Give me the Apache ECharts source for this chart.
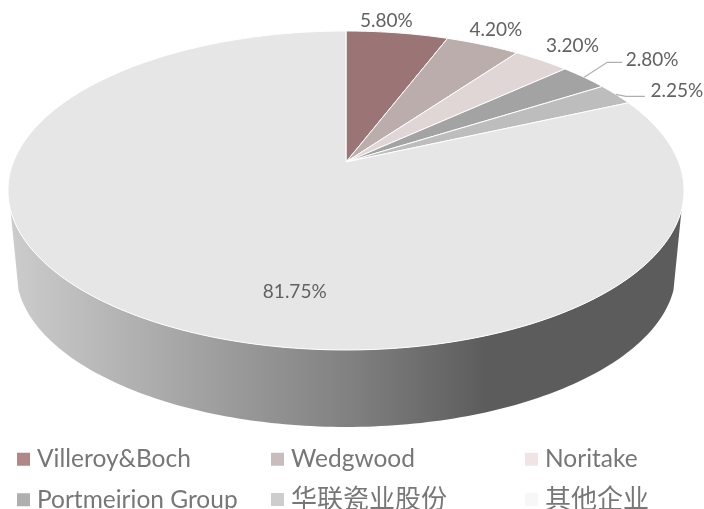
<!DOCTYPE html>
<html>
<head>
<meta charset="utf-8">
<style>html,body{margin:0;padding:0;background:#fff}#chart{width:704px;height:509px}</style>
<script src="https://cdn.jsdelivr.net/npm/echarts@6/dist/echarts.min.js"></script>
</head>
<body>
<div id="chart"></div>
<script>
// Ceramics market share
const companies = ['Villeroy&Boch', 'Wedgwood', 'Noritake', 'Portmeirion Group', '华联瓷业股份', '其他企业'];
const shares = [5.80, 4.20, 3.20, 2.80, 2.25, 81.75];
const sliceColors = ['#9b7575', '#bcadad', '#e0d6d6', '#a3a3a3', '#bdbdbd', '#e6e6e6'];
const swatchColors = ['#b08686', '#c9bcbc', '#f0e4e4', '#afafaf', '#cdcdcd', '#f7f7f7'];

// Tilted-disc projection: the apex sits above the rim's centre because of perspective
const disc = { apexX: 346, apexY: 162, scaleX: 332.6, scaleY: 154.4, tilt: 0.1786 };
// The lower rim shrinks slightly towards a far vanishing point
const base = { shrink: 0.976, vanishY: 3558 };
// Where the side wall leaves the upper rim, in degrees clockwise from twelve o'clock
const wallFrom = 107.1, wallTo = 252.9;
// Label centre relative to the rim point at each slice's mid angle
const labelOffsets = [[-11, -12], [13, -15], [31, -14], [68, -17.5], [61, -4], [161, -23]];
// Leader line bends, relative to the same rim point
const leaders = [null, null, null, [[23, -15], [38, -15]], [[10, 2], [29, 2]], null];
// Legend placement and type size, Latin and CJK names differ slightly
const legendCells = [[17, 447], [271, 447], [525, 447], [17, 487.5], [271, 486.5], [525, 486.5]];
const legendFontSizes = [24.5, 24.5, 24.5, 24.5, 26, 26];

function rim(deg) {
  const t = deg * Math.PI / 180, X = Math.sin(t), Y = Math.cos(t), d = 1 + disc.tilt * Y;
  return [disc.apexX + disc.scaleX * X / d, disc.apexY - disc.scaleY * Y / d];
}
function lowerRim(deg) {
  const p = rim(deg);
  return [disc.apexX + (p[0] - disc.apexX) * base.shrink, base.vanishY + (p[1] - base.vanishY) * base.shrink];
}
function sweep(fn, a, b) {
  const pts = [], n = Math.max(2, Math.ceil(Math.abs(b - a)));
  for (let i = 0; i <= n; i++) pts.push(fn(a + (b - a) * i / n));
  return pts;
}

const total = shares.reduce((s, v) => s + v, 0);
let running = 0;
const spans = shares.map(v => { const a = running / total * 360; running += v; return [a, running / total * 360]; });

const wallSeries = {
  type: 'custom', name: 'wall', coordinateSystem: 'none', silent: true, data: [[1]], z: 1,
  renderItem: () => ({
    type: 'polygon',
    shape: { points: sweep(rim, wallFrom, wallTo).concat(sweep(lowerRim, wallTo, wallFrom)) },
    style: {
      fill: new echarts.graphic.LinearGradient(0, 0, 1, 0, [
        { offset: 0, color: '#cccccc' }, { offset: 0.51, color: '#808080' },
        { offset: 0.71, color: '#5c5c5c' }, { offset: 1, color: '#5c5c5c' }
      ]),
      stroke: null
    }
  })
};

const sliceSeries = companies.map((name, i) => ({
  type: 'custom', name, coordinateSystem: 'none', silent: true, data: [[shares[i]]], z: 2,
  itemStyle: { color: sliceColors[i] },
  renderItem: () => {
    const [a, b] = spans[i], mid = rim((a + b) / 2), off = labelOffsets[i];
    const children = [{
      type: 'polygon',
      shape: { points: [[disc.apexX, disc.apexY]].concat(sweep(rim, a, b)) },
      style: { fill: sliceColors[i], stroke: '#ffffff', lineWidth: 1, lineJoin: 'round' }
    }];
    if (leaders[i]) children.push({
      type: 'polyline',
      shape: { points: [mid].concat(leaders[i].map(p => [mid[0] + p[0], mid[1] + p[1]])) },
      style: { fill: null, stroke: '#b0b0b0', lineWidth: 1.2 }
    });
    children.push({
      type: 'text', z2: 10, x: mid[0] + off[0], y: mid[1] + off[1],
      style: {
        text: shares[i].toFixed(2) + '%', fill: '#626262', align: 'center', verticalAlign: 'middle',
        font: '19px Lato, "Noto Sans", sans-serif'
      }
    });
    return { type: 'group', children };
  }
}));

const chart = echarts.init(document.getElementById('chart'), null, { renderer: 'canvas' });
chart.setOption({
  animation: false,
  backgroundColor: '#ffffff',
  legend: companies.map((name, i) => ({
    left: legendCells[i][0], top: legendCells[i][1], padding: 0, selectedMode: false,
    icon: 'rect', itemWidth: 13, itemHeight: 13,
    textStyle: { color: '#777777', fontSize: legendFontSizes[i], fontFamily: 'Lato, "Noto Sans CJK SC", sans-serif', padding: [0, 0, 0, 2] },
    data: [{ name, itemStyle: { color: swatchColors[i] } }]
  })),
  series: [wallSeries].concat(sliceSeries)
});
</script>
</body>
</html>
